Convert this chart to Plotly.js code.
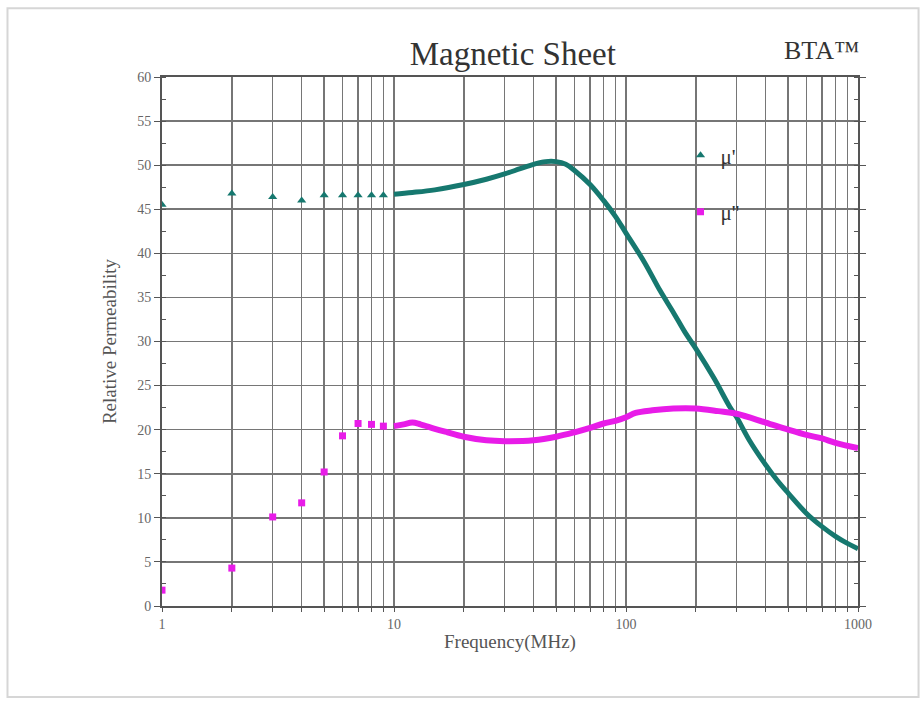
<!DOCTYPE html>
<html>
<head>
<meta charset="utf-8">
<script src="https://cdn.plot.ly/plotly-3.0.1.min.js"></script>
<style>
  html, body { margin: 0; padding: 0; background: #ffffff; }
  #chart { width: 924px; height: 707px; }
</style>
</head>
<body>
<div id="chart"></div>
<script>
// ---- data ----
const freqDots       = [1, 2, 3, 4, 5, 6, 7, 8, 9];
const muPrimeDots    = [45.5, 46.8, 46.4, 46.0, 46.6, 46.6, 46.6, 46.6, 46.6];
const muDoubleDots   = [1.8, 4.3, 10.1, 11.7, 15.2, 19.3, 20.7, 20.6, 20.4];

const freqPrimeLine  = [10, 12, 15, 20, 25, 30, 35, 40, 45, 50, 55, 60, 70, 80, 90, 100, 120, 140, 160, 180, 200, 240, 280, 300, 340, 400, 450, 500, 600, 700, 800, 900, 1000];
const muPrimeLine    = [46.7, 46.9, 47.2, 47.8, 48.4, 49.0, 49.6, 50.1, 50.4, 50.4, 50.1, 49.4, 47.8, 46.0, 44.2, 42.3, 39.0, 35.8, 33.3, 31.0, 29.2, 25.8, 22.6, 21.4, 18.8, 16.0, 14.2, 12.8, 10.5, 9.0, 7.9, 7.1, 6.5];

const freqDoubleLine = [10, 11, 12, 13, 15, 17, 20, 25, 30, 40, 50, 60, 70, 80, 90, 100, 110, 130, 160, 200, 250, 300, 400, 500, 600, 700, 800, 1000];
const muDoubleLine   = [20.4, 20.6, 20.8, 20.6, 20.1, 19.7, 19.2, 18.8, 18.7, 18.8, 19.2, 19.7, 20.2, 20.7, 21.0, 21.4, 21.9, 22.2, 22.4, 22.4, 22.1, 21.8, 20.8, 20.0, 19.4, 19.0, 18.5, 17.9];

const xGridVals  = [1,2,3,4,5,6,7,8,9,10,20,30,40,50,60,70,80,90,100,200,300,400,500,600,700,800,900,1000];
const xMajorVals = [1, 10, 100, 1000];
const xMajorText = ['1', '10', '100', '1000'];

const seriesNames = ["μ'", "μ''"];
const tealColor = '#16786f';
const magentaColor = '#e81ce8';

const xTickText = xGridVals.map(v => {
  const i = xMajorVals.indexOf(v);
  return i >= 0 ? xMajorText[i] : '';
});

const serif = 'Liberation Serif, Times New Roman, serif';

const traces = [
  {
    x: freqDots, y: muPrimeDots, type: 'scatter', mode: 'markers',
    name: seriesNames[0], legendgroup: 'a',
    marker: { color: tealColor, size: 8, symbol: 'triangle-up' }
  },
  {
    x: freqPrimeLine, y: muPrimeLine, type: 'scatter', mode: 'lines',
    showlegend: false, legendgroup: 'a',
    line: { color: tealColor, width: 5, shape: 'spline' }
  },
  {
    x: freqDots, y: muDoubleDots, type: 'scatter', mode: 'markers',
    name: seriesNames[1], legendgroup: 'b',
    marker: { color: magentaColor, size: 7, symbol: 'square' }
  },
  {
    x: freqDoubleLine, y: muDoubleLine, type: 'scatter', mode: 'lines',
    showlegend: false, legendgroup: 'b',
    line: { color: magentaColor, width: 6, shape: 'spline' }
  }
];

const layout = {
  width: 924, height: 707,
  margin: { l: 162, r: 66, t: 77, b: 101 },
  paper_bgcolor: '#ffffff',
  plot_bgcolor: '#ffffff',
  font: { family: serif, color: '#444' },
  title: {
    text: 'Magnetic Sheet',
    font: { family: serif, size: 33, color: '#333' },
    x: 0.555, xanchor: 'center', y: 0.925, yanchor: 'middle'
  },
  xaxis: {
    type: 'log', range: [0, 3],
    tickmode: 'array', tickvals: xGridVals, ticktext: xTickText,
    showgrid: true, gridcolor: '#767676', gridwidth: 1.6,
    showline: true, linecolor: '#555', linewidth: 2, mirror: true,
    ticks: 'outside', ticklen: 4, tickcolor: '#555',
    tickfont: { family: serif, size: 14, color: '#666' },
    title: { text: 'Frequency(MHz)', font: { family: serif, size: 19, color: '#555' }, standoff: 4 },
    zeroline: false
  },
  yaxis: {
    range: [0, 60], dtick: 5, tick0: 0,
    showgrid: true, gridcolor: '#767676', gridwidth: 1.6,
    showline: true, linecolor: '#555', linewidth: 2, mirror: 'ticks',
    ticks: 'outside', ticklen: 6, tickcolor: '#555',
    minor: { dtick: 2.5, ticks: 'inside', ticklen: 4, tickcolor: '#555', showgrid: false },
    tickfont: { family: serif, size: 14, color: '#666' },
    title: { text: 'Relative Permeability', font: { family: serif, size: 19, color: '#555' }, standoff: 16 },
    zeroline: false
  },
  showlegend: true,
  legend: {
    x: 0.745, y: 0.89, xanchor: 'left', yanchor: 'top',
    bgcolor: 'rgba(0,0,0,0)',
    font: { family: serif, size: 21, color: '#333' },
    traceorder: 'grouped', tracegroupgap: 26
  },
  annotations: [
    {
      text: 'BTA™', xref: 'paper', yref: 'paper',
      x: 1.005, y: 1.05, xanchor: 'right', yanchor: 'middle',
      showarrow: false, font: { family: serif, size: 26, color: '#333' }
    }
  ],
  shapes: [
    {
      type: 'rect', xref: 'paper', yref: 'paper', layer: 'below',
      x0: -0.222, x1: 1.087, y0: -0.172, y1: 1.13,
      line: { color: '#d6d6d6', width: 2 }, fillcolor: 'rgba(0,0,0,0)'
    }
  ]
};

Plotly.newPlot('chart', traces, layout, { displayModeBar: false, staticPlot: true });
</script>
</body>
</html>
